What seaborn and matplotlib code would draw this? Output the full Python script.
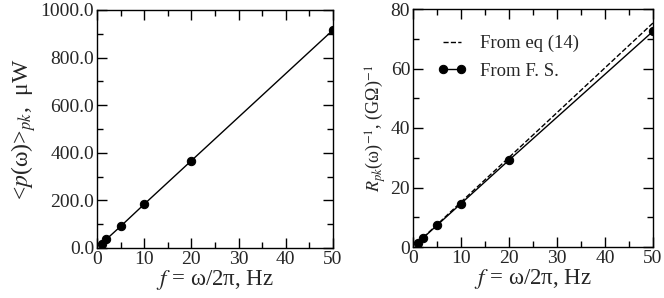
import matplotlib
matplotlib.use("Agg")
import matplotlib.pyplot as plt
import seaborn as sns
import pandas as pd
from matplotlib.ticker import MultipleLocator, FormatStrFormatter

freq = [1, 2, 5, 10, 20, 50]
power_uW = [18, 37, 91, 184, 367, 916]
rinv_fs = [1.5, 2.9, 7.3, 14.6, 29.2, 72.5]
rinv_eq14 = [1.5, 3.0, 7.5, 15.1, 30.1, 75.3]

sns.set_style("ticks")
plt.rcParams['font.family'] = ['Liberation Serif', 'DejaVu Serif']
plt.rcParams['mathtext.fontset'] = 'stix'

fig = plt.figure(figsize=(6.64, 2.98), dpi=100)
ax1 = fig.add_axes([97/664, 1 - 248/298, (333-97)/664, (248-10)/298])
ax2 = fig.add_axes([413/664, 1 - 247/298, (653-413)/664, (247-9)/298])

df1 = pd.DataFrame({"f": freq, "p": power_uW})
sns.lineplot(data=df1, x="f", y="p", ax=ax1, color="black", lw=1.0,
             marker="o", markersize=6, markeredgecolor="black")

df2 = pd.DataFrame({"f": freq, "eq": rinv_eq14, "fs": rinv_fs})
sns.lineplot(data=df2, x="f", y="eq", ax=ax2, color="black", lw=1.0,
             linestyle="--", label="From eq (14)")
sns.lineplot(data=df2, x="f", y="fs", ax=ax2, color="black", lw=1.0,
             marker="o", markersize=6, markeredgecolor="black", label="From F. S.")

for ax in (ax1, ax2):
    ax.set_xlim(0, 50)
    ax.xaxis.set_major_locator(MultipleLocator(10))
    ax.xaxis.set_minor_locator(MultipleLocator(5))
    ax.tick_params(which="both", direction="in", top=True, right=True,
                   labelsize=14, width=1.0, color="black", pad=2)
    ax.tick_params(which="major", length=7)
    ax.tick_params(which="minor", length=4)
    for s in ax.spines.values():
        s.set_linewidth(1.0)
        s.set_color("black")
    ax.set_xlabel(r"$f$ = ω/2π, Hz", fontsize=16.5, labelpad=0)

ax1.set_ylim(0, 1000)
ax1.yaxis.set_major_locator(MultipleLocator(200))
ax1.yaxis.set_minor_locator(MultipleLocator(100))
ax1.yaxis.set_major_formatter(FormatStrFormatter("%.1f"))
ax1.set_ylabel(r"<$p$(ω)>$_{pk}$,  μW", fontsize=17, labelpad=2)

ax2.set_ylim(0, 80)
ax2.yaxis.set_major_locator(MultipleLocator(20))
ax2.yaxis.set_minor_locator(MultipleLocator(10))
ax2.set_ylabel(r"$R_{pk}$(ω)$^{-1}$, (GΩ)$^{-1}$", fontsize=13, labelpad=2)

leg = ax2.legend(loc="upper left", frameon=False, fontsize=13.5, numpoints=2,
                 handlelength=1.6, handletextpad=0.7, labelspacing=0.55,
                 bbox_to_anchor=(0.1, 0.89), borderaxespad=0, borderpad=0)

fig.savefig("out.png", dpi=100)
